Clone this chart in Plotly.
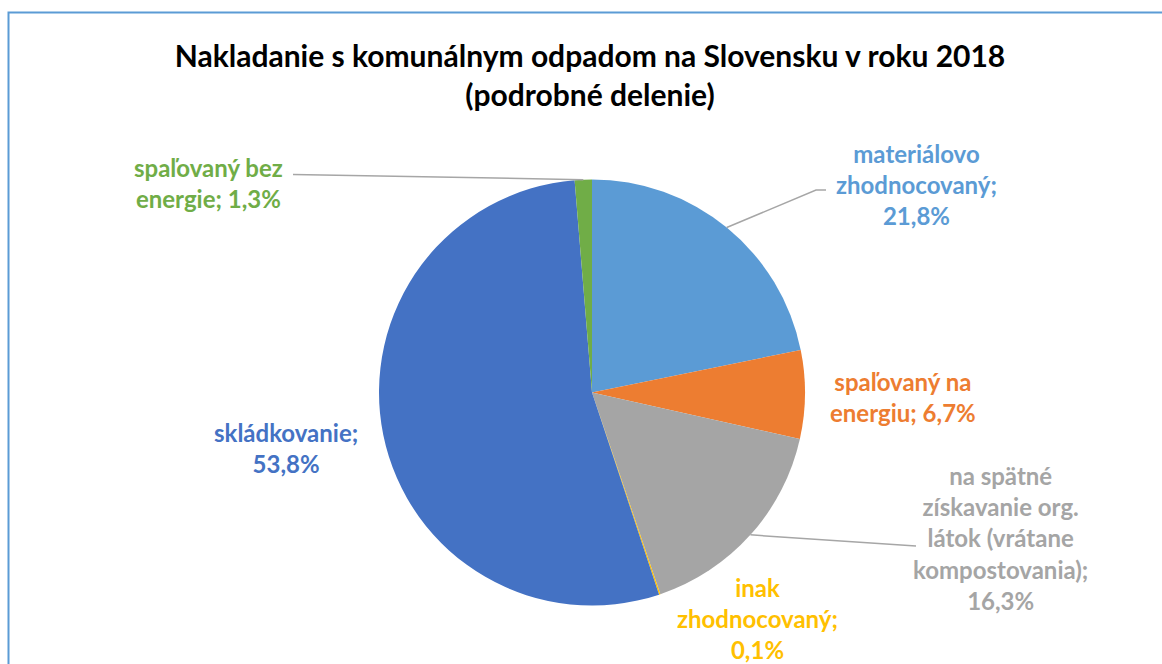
import math
import plotly.graph_objects as go

# data
categories = [
    "materiálovo zhodnocovaný",
    "spaľovaný na energiu",
    "na spätné získavanie org. látok (vrátane kompostovania)",
    "inak zhodnocovaný",
    "skládkovanie",
    "spaľovaný bez energie",
]
shares = [21.8, 6.7, 16.3, 0.1, 53.8, 1.3]
label_templates = [
    "materiálovo<br>zhodnocovaný;<br>{}",
    "spaľovaný na<br>energiu; {}",
    "na spätné<br>získavanie org.<br>látok (vrátane<br>kompostovania);<br>{}",
    "inak<br>zhodnocovaný;<br>{}",
    "skládkovanie;<br>{}",
    "spaľovaný bez<br>energie; {}",
]
colors = ["#5B9BD5", "#ED7D31", "#A5A5A5", "#FFC000", "#4472C4", "#70AD47"]

W, H = 1162, 664
FONT = "Lato"

# pie geometry in pixels
cx, cy, r = 592, 392.5, 213

# label centres and leader line bends (pixels)
label_pos = [(916, 184), (903, 397), (1000, 538), (757, 618), (286, 448), (208, 183)]
leader_bends = {0: [(816, 190), (826, 190)], 2: [(916, 546)], 5: [(293, 174.5)]}


def px(x, y):
    return x / W, 1 - y / H


fig = go.Figure(go.Pie(
    labels=categories,
    values=shares,
    sort=False,
    direction="clockwise",
    rotation=0,
    marker=dict(colors=colors, line=dict(width=0)),
    textinfo="none",
    hoverinfo="label+percent",
    showlegend=False,
    domain=dict(x=[(cx - r) / W, (cx + r) / W], y=[1 - (cy + r) / H, 1 - (cy - r) / H]),
))

total = sum(shares)
cum = 0
for i, (val, tmpl) in enumerate(zip(shares, label_templates)):
    mid = (cum + val / 2) / total * 2 * math.pi
    cum += val
    text = tmpl.format(f"{val:.1f}%".replace(".", ","))
    lx, ly = px(*label_pos[i])
    fig.add_annotation(
        x=lx, y=ly, xref="paper", yref="paper", text=f"<b>{text}</b>", showarrow=False,
        xanchor="center", yanchor="middle", align="center",
        font=dict(family=FONT, size=24, color=colors[i]),
    )
    if i in leader_bends:
        pts = [(cx + r * math.sin(mid), cy - r * math.cos(mid))] + leader_bends[i]
        path = "M " + " L ".join(f"{px(x, y)[0]},{px(x, y)[1]}" for x, y in pts)
        fig.add_shape(type="path", xref="paper", yref="paper", path=path,
                      line=dict(color="#A6A6A6", width=1.5))

# chart frame
fx0, fy0 = px(8.5, 12.5)
fig.add_shape(type="rect", xref="paper", yref="paper", x0=fx0, y0=-0.05, x1=1.05, y1=fy0,
              line=dict(color="#5B9BD5", width=2), fillcolor="rgba(0,0,0,0)")

fig.update_layout(
    title=dict(
        text="<b>Nakladanie s komunálnym odpadom na Slovensku v roku 2018<br>(podrobné delenie)</b>",
        x=590 / W, xanchor="center", y=1 - 67 / H, yanchor="middle",
        font=dict(family=FONT, size=30, color="#000000"),
    ),
    width=W, height=H,
    margin=dict(l=0, r=0, t=0, b=0),
    paper_bgcolor="white",
    plot_bgcolor="white",
)

# drop the default page margin so the figure fills the window exactly
fig.write_html("out.html", config={"displayModeBar": False},
               post_script="document.body.style.margin='0px';")
